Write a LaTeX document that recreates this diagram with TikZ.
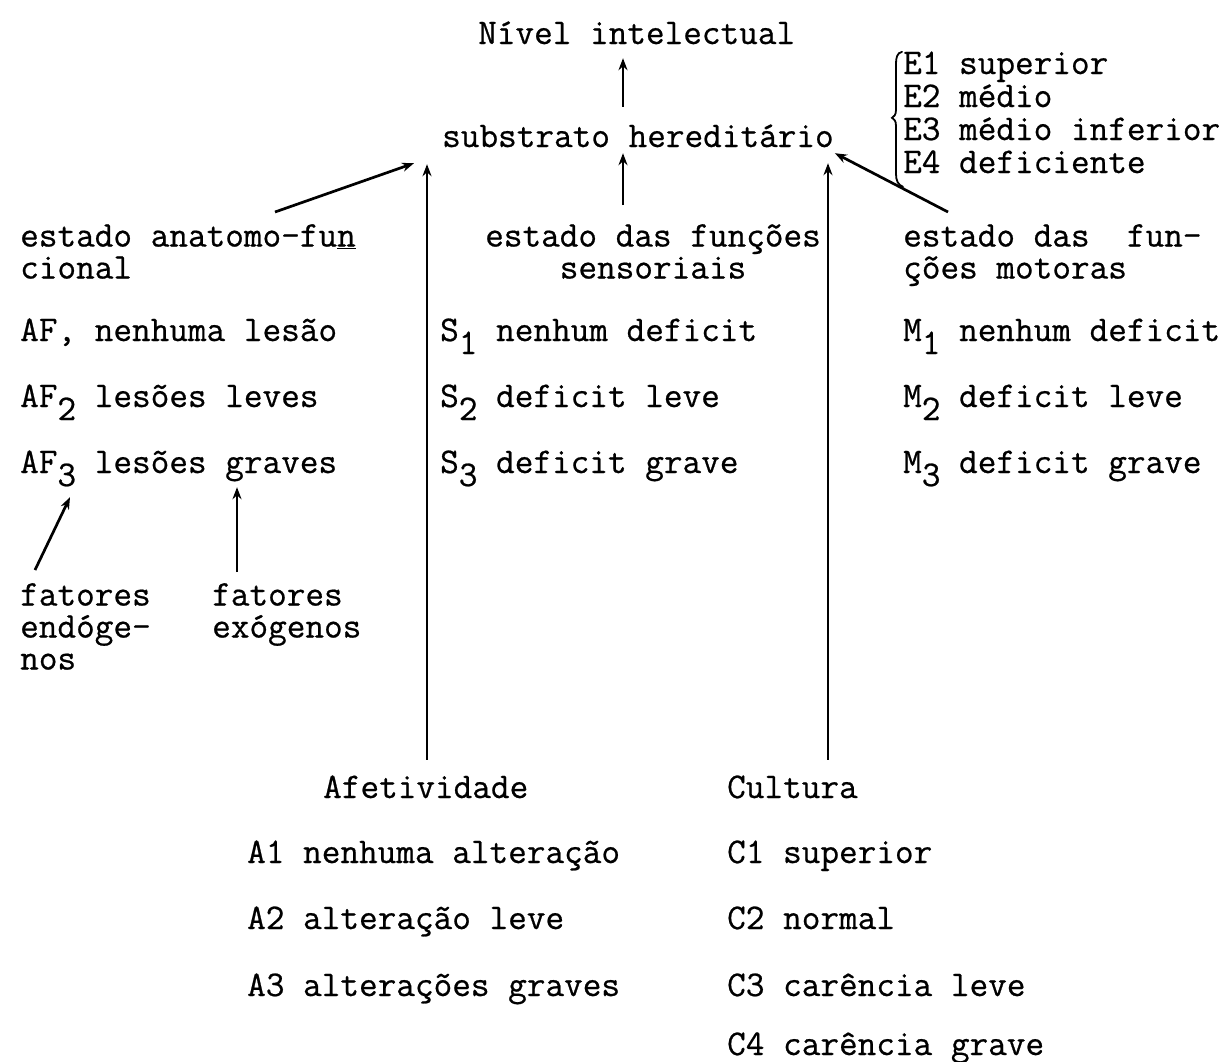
\documentclass[tikz,border=0pt]{standalone}
\usepackage{fontspec}
\setmonofont{Latin Modern Mono}[FakeBold=0.6]
\usetikzlibrary{arrows.meta}
\newcommand{\lowr}[1]{\raisebox{-0.36em}{#1}}
\begin{document}
\begin{tikzpicture}[x=1pt,y=-1pt,
  txt/.style={anchor=base west, inner sep=0pt, font=\fontsize{36.2}{40}\selectfont\ttfamily, text height=20pt, text depth=4pt},
  stack/.style={anchor=north west, inner sep=0pt, font=\fontsize{36.2}{32}\selectfont\ttfamily, align=left},
  cstack/.style={stack, anchor=north, align=center},
  arr/.style={line width=2.7pt, -{Stealth[length=12pt,width=9pt]}},
  bracepath/.style={line width=1.8pt, line cap=round}]
\useasboundingbox (0,0) rectangle (1232,1061);

% top
\node[txt] (niv) at (478,44) {Nível intelectual};
\node[txt] (sub) at (442,147) {substrato hereditário};
\node[txt] (e1) at (903,74) {E1 superior};
\node[txt] (e2) at (903,107) {E2 médio};
\node[txt] (e3) at (903,140) {E3 médio inferior};
\node[txt] (e4) at (903,173) {E4 deficiente};

% headings (first baseline at 246)
\node[stack] (afh) at (20,224) {estado anatomo-fu\underline{n}\\cional};
\node[cstack] (fsh) at (653,224) {estado das funções\\sensoriais};
\node[stack] (mh) at (903,224) {estado das~~fun-\\ções motoras};

% lists
\node[txt] (af1) at (20,341) {AF, nenhuma lesão};
\node[txt] (af2) at (20,407) {AF\lowr{2} lesões leves};
\node[txt] (af3) at (20,473) {AF\lowr{3} lesões graves};
\node[txt] (s1) at (440,341) {S\lowr{1} nenhum deficit};
\node[txt] (s2) at (440,407) {S\lowr{2} deficit leve};
\node[txt] (s3) at (440,473) {S\lowr{3} deficit grave};
\node[txt] (m1) at (903,341) {M\lowr{1} nenhum deficit};
\node[txt] (m2) at (903,407) {M\lowr{2} deficit leve};
\node[txt] (m3) at (903,473) {M\lowr{3} deficit grave};

% factors (first baseline at 605)
\node[stack] (fen) at (20,583) {fatores\\endóge-\\nos};
\node[stack] (fex) at (212,583) {fatores\\exógenos};

% bottom
\node[txt] (afe) at (323,798) {Afetividade};
\node[txt] (a1) at (247,863) {A1 nenhuma alteração};
\node[txt] (a2) at (247,929) {A2 alteração leve};
\node[txt] (a3) at (247,996) {A3 alterações graves};
\node[txt] (cul) at (727,798) {Cultura};
\node[txt] (c1) at (727,863) {C1 superior};
\node[txt] (c2) at (727,929) {C2 normal};
\node[txt] (c3) at (727,996) {C3 carência leve};
\node[txt] (c4) at (727,1055) {C4 carência grave};

% arrow columns
\coordinate (ax0) at (623,0);
\coordinate (ax1) at (427,0);
\coordinate (ax2) at (828,0);

\draw[arr, shorten <=20pt, shorten >=10pt] (sub.north -| ax0) -- (niv.south -| ax0);
\draw[arr, shorten <=19pt, shorten >=2pt] (fsh.north -| ax0) -- (sub.south -| ax0);
\draw[arr, shorten <=18pt, shorten >=13pt] (afe.north -| ax1) -- (sub.south -| ax1);
\draw[arr, shorten <=18pt, shorten >=12pt] (cul.north -| ax2) -- (sub.south -| ax2);
\draw[arr] ([shift={(255,-12)}]afh.north west) -- ([shift={(-28,12)}]sub.south west);
\draw[arr] ([shift={(45,-12)}]mh.north west) -- ([shift={(1,2)}]sub.south east);
\draw[arr] ([shift={(15,-13)}]fen.north west) -- ([shift={(50,20)}]af3.south west);
\draw[arr] ([shift={(25,-11)}]fex.north west) -- ([shift={(217,10)}]af3.south west);

% brace for E list
\begin{scope}[shift={(e1.north west)}]
\draw[bracepath] (-1,-2) .. controls (-6,-1) and (-7,4) .. (-7,10)
  -- (-7,56) .. controls (-7,61) and (-9,63) .. (-11,64)
  .. controls (-9,65) and (-7,67) .. (-7,72)
  -- (-7,120) .. controls (-7,127) and (-5,131) .. (0,133);
\end{scope}
\end{tikzpicture}
\end{document}
